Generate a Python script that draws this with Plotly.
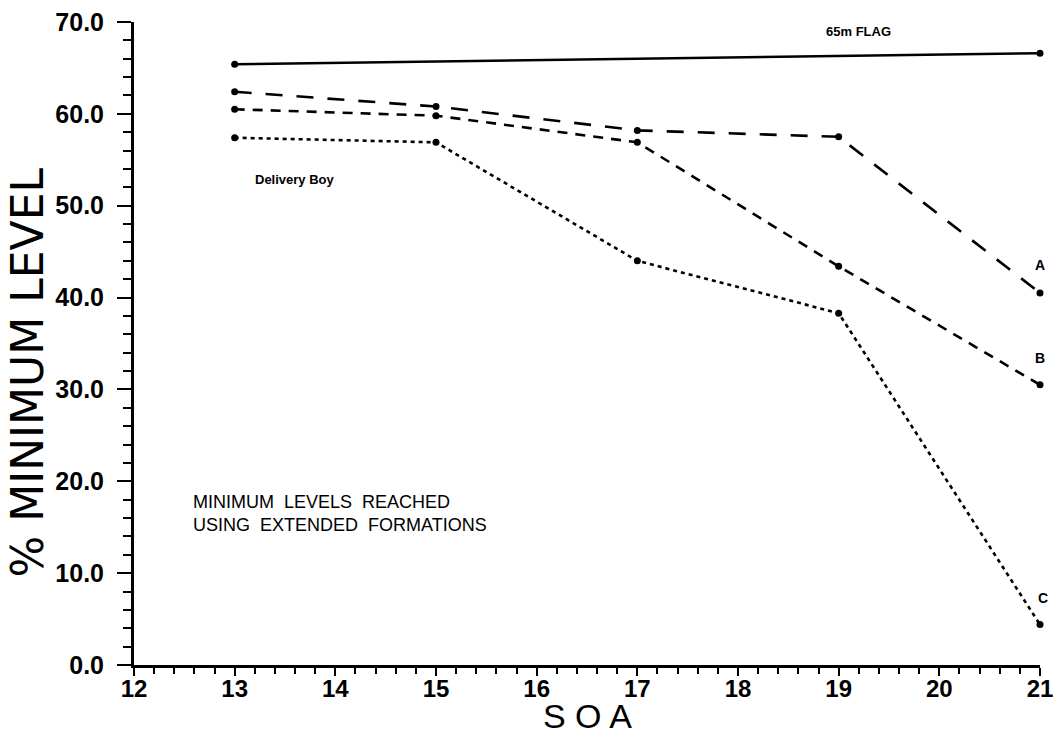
import plotly.graph_objects as go

soa = [13, 15, 17, 19, 21]
flag_65m = [65.4, None, None, None, 66.6]
series_a = [62.4, 60.8, 58.2, 57.5, 40.5]
series_b = [60.5, 59.8, 56.9, 43.4, 30.5]
series_c = [57.4, 56.9, 44.0, 38.3, 4.4]

x_ticks = list(range(12, 22))
y_ticks = [0, 10, 20, 30, 40, 50, 60, 70]

fig = go.Figure()

def add_line(y, dash):
    xs = [x for x, v in zip(soa, y) if v is not None]
    ys = [v for v in y if v is not None]
    fig.add_trace(go.Scatter(
        x=xs, y=ys, mode="lines+markers",
        line=dict(color="black", width=2.6, dash=dash),
        marker=dict(color="black", size=7),
        cliponaxis=False, showlegend=False,
    ))

add_line(flag_65m, "solid")
add_line(series_a, "17px,14px")
add_line(series_b, "10px,8px")
add_line(series_c, "4px,4px")

bold = dict(family="Liberation Sans, Arial", color="black")
annos = [
    dict(x=19.2, y=69.0, text="<b>65m FLAG</b>", font=dict(size=13, **bold)),
    dict(x=21.0, y=series_a[-1] + 3.0, text="<b>A</b>", font=dict(size=14, **bold)),
    dict(x=21.0, y=series_b[-1] + 2.9, text="<b>B</b>", font=dict(size=14, **bold)),
    dict(x=21.0, y=series_c[-1] + 2.9, xshift=3, text="<b>C</b>", font=dict(size=14, **bold)),
    dict(x=13.6, y=52.8, text="<b>Delivery Boy</b>", font=dict(size=13, **bold)),
]
for a in annos:
    fig.add_annotation(xref="x", yref="y", showarrow=False, **a)

fig.add_annotation(
    xref="x", yref="y", x=12.57, y=16.5, xanchor="left", yanchor="middle",
    text="MINIMUM  LEVELS  REACHED<br>USING  EXTENDED  FORMATIONS",
    showarrow=False, align="left",
    font=dict(family="Liberation Sans, Arial", size=18, color="black"),
)

# axis titles
fig.add_annotation(
    xref="paper", yref="paper", x=0.5, y=-0.079, yanchor="middle",
    text="S O A", showarrow=False,
    font=dict(family="Liberation Sans, Arial", size=34, color="black"),
)
fig.add_annotation(
    xref="paper", yref="paper", x=-0.118, y=0.455, xanchor="center", yanchor="middle",
    text="% MINIMUM LEVEL", textangle=-90, showarrow=False,
    font=dict(family="DejaVu Sans, Liberation Sans, Arial", size=44, color="black"),
)

fig.update_layout(
    width=1055, height=736,
    margin=dict(l=134, r=15, t=22, b=71),
    paper_bgcolor="white", plot_bgcolor="white",
    xaxis=dict(
        range=[12, 21], tickvals=x_ticks, ticktext=[str(v) for v in x_ticks],
        showline=True, linecolor="black", linewidth=3, automargin=False,
        ticks="outside", ticklen=8, tickwidth=2, tickcolor="black",
        minor=dict(ticks="outside", ticklen=6, tickwidth=2, tickcolor="black", dtick=0.2),
        showgrid=False, zeroline=False, ticklabeloverflow="allow", ticklabelstandoff=-8,
        tickfont=dict(family="Liberation Sans, Arial", size=24, color="black", weight="bold"),
    ),
    yaxis=dict(
        range=[0, 70], tickvals=y_ticks, tickformat=".1f",
        showline=True, linecolor="black", linewidth=3, automargin=False,
        ticks="outside", ticklen=14, tickwidth=2, tickcolor="black",
        minor=dict(ticks="outside", ticklen=8, tickwidth=2, tickcolor="black", dtick=2),
        showgrid=False, zeroline=False, ticklabelstandoff=8, ticklabeloverflow="allow",
        tickfont=dict(family="Liberation Sans, Arial", size=25, color="black", weight="bold"),
    ),
)

fig.write_html("out.html")
